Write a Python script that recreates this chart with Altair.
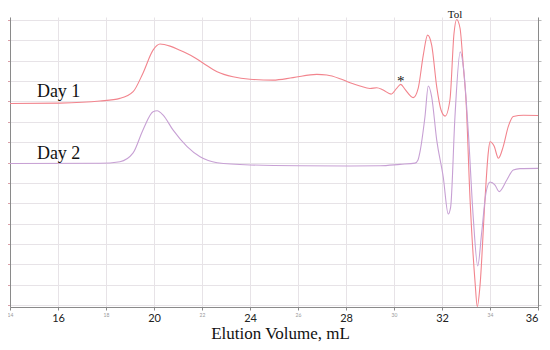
import altair as alt
import pandas as pd

# Day 1 trace (elution volume mL, signal in arbitrary grid units)
day1_x = [14.00, 16.08, 17.75, 18.58, 19.13, 19.54, 19.96, 20.25, 20.67, 21.08,
          21.63, 22.04, 22.63, 23.29, 24.00, 24.96, 25.79, 26.78, 27.20, 27.75,
          28.17, 28.58, 29.00, 29.28, 29.55, 29.88, 30.11, 30.28, 30.46, 30.80,
          31.01, 31.22, 31.40, 31.57, 31.78, 31.96, 32.13, 32.33, 32.50, 32.61,
          32.75, 32.89, 33.00, 33.17, 33.38, 33.47, 33.58, 33.79, 33.93, 34.00,
          34.17, 34.35, 34.55, 34.76, 34.97, 35.39, 36.00]
day1_y = [9.90, 9.92, 10.02, 10.15, 10.48, 11.39, 12.52, 12.82, 12.72, 12.52,
          12.20, 11.89, 11.46, 11.21, 11.09, 11.05, 11.17, 11.33, 11.30, 11.12,
          10.92, 10.76, 10.64, 10.67, 10.56, 10.36, 10.64, 10.84, 10.59, 10.19,
          10.66, 12.28, 13.26, 12.77, 10.72, 9.58, 9.28, 10.07, 13.34, 14.03,
          13.61, 11.70, 10.07, 5.16, 1.08, -0.08, 0.90, 5.16, 7.51, 8.02,
          7.81, 7.21, 7.78, 8.76, 9.26, 9.32, 9.31]

# Day 2 trace
day2_x = [14.00, 17.75, 18.58, 19.13, 19.54, 19.96, 20.13, 20.38, 20.79, 21.38,
          21.92, 22.63, 24.00, 26.08, 28.17, 29.42, 30.25, 30.88, 31.00, 31.08,
          31.29, 31.43, 31.57, 31.78, 32.05, 32.26, 32.36, 32.54, 32.76, 32.89,
          33.10, 33.30, 33.49, 33.65, 33.83, 34.00, 34.21, 34.38, 34.70, 34.97,
          35.25, 36.00]
day2_y = [6.95, 6.96, 7.04, 7.47, 8.60, 9.49, 9.54, 9.33, 8.60, 7.78,
          7.28, 6.99, 6.88, 6.84, 6.83, 6.84, 6.91, 6.97, 7.12, 7.51,
          9.25, 10.76, 10.23, 8.10, 6.30, 4.47, 4.81, 9.25, 12.44, 11.70,
          8.43, 4.34, 1.92, 3.52, 5.49, 6.04, 5.89, 5.57, 6.14, 6.63,
          6.70, 6.71]

series_names = ["Day 1", "Day 2"]
series_colors = ["#f2848d", "#c7a0d4"]

label_text = ["Day 1", "Day 2"]
label_x = [15.12, 15.12]
label_y = [10.24, 7.16]

ann_text = ["*", "Tol"]
ann_x = [30.28, 32.54]
ann_y = [10.76, 14.1]
ann_size = [15, 11]

x_ticks = list(range(14, 37))
y_ticks = list(range(0, 15))

x_domain = [14, 36]
y_domain = [-0.1, 14.15]

df = pd.DataFrame(
    {"vol": day1_x + day2_x,
     "sig": day1_y + day2_y,
     "series": [series_names[0]] * len(day1_x) + [series_names[1]] * len(day2_x)}
)
labels_df = pd.DataFrame({"x": label_x, "y": label_y, "t": label_text})
ann_df = pd.DataFrame({"x": ann_x, "y": ann_y, "t": ann_text, "s": ann_size})

xscale = alt.Scale(domain=x_domain, nice=False, zero=False)
yscale = alt.Scale(domain=y_domain, nice=False, zero=False)

grid_color = "#e7e3e7"
axis_color = "#8a8a8a"
major_test = "datum.value % 4 == 0 && datum.value > 14"

x_axis = alt.Axis(
    values=x_ticks,
    title="Elution Volume, mL",
    titleFont="Liberation Serif",
    titleFontSize=17,
    titleFontWeight="normal",
    titleColor="#111",
    titleBaseline="alphabetic",
    titleY=31,
    titleX=270,
    titleAlign="center",
    labelFont="Lato",
    labelFontSize={"condition": {"test": major_test, "value": 11}, "value": 5},
    labelColor={"condition": {"test": major_test, "value": "#222222"}, "value": "#999999"},
    labelAlign={"condition": {"test": "datum.value == 36", "value": "right"}, "value": "center"},
    labelBaseline="top",
    labelPadding=2,
    labelOverlap=False,
    labelFlush=False,
    tickSize=3,
    tickColor=axis_color,
    domainColor=axis_color,
    gridColor=grid_color,
    format="d",
)

y_axis_left = alt.Axis(
    values=y_ticks, labels=False, title=None, tickSize=3,
    tickColor="#d9a0a8", domainColor=axis_color, gridColor=grid_color,
)
y_axis_right = alt.Axis(
    values=y_ticks, labels=False, title=None, tickSize=3, orient="right",
    tickColor="#bbbbbb", domainColor=axis_color, grid=False,
)

lines = alt.Chart(df).mark_line(strokeWidth=1.1, interpolate="monotone").encode(
    x=alt.X("vol:Q", scale=xscale, axis=x_axis),
    y=alt.Y("sig:Q", scale=yscale, axis=y_axis_left),
    color=alt.Color("series:N", scale=alt.Scale(domain=series_names, range=series_colors), legend=None),
    detail="series:N",
)

right = alt.Chart(df).mark_line(opacity=0).encode(
    x=alt.X("vol:Q", scale=xscale),
    y=alt.Y("sig:Q", scale=yscale, axis=y_axis_right),
)

day_labels = alt.Chart(labels_df).mark_text(
    align="left", baseline="alphabetic", font="Liberation Serif", fontSize=18, color="#111"
).encode(
    x=alt.X("x:Q", scale=xscale),
    y=alt.Y("y:Q", scale=yscale, axis=None),
    text="t:N",
)

anns = alt.Chart(ann_df).mark_text(
    align="center", baseline="alphabetic", font="Liberation Serif", color="#111", fontWeight="normal"
).encode(
    x=alt.X("x:Q", scale=xscale),
    y=alt.Y("y:Q", scale=yscale, axis=None),
    text="t:N",
    size=alt.Size("s:Q", scale=None, legend=None),
)

chart = alt.layer(lines, right, day_labels, anns).resolve_scale(y="independent").properties(
    width=528, height=290,
    autosize=alt.AutoSizeParams(type="none"),
    padding={"left": 2, "top": 9, "right": 4, "bottom": 35},
    background="white",
).configure_view(stroke=None)

chart.save("out.html", embed_options={"renderer": "svg", "actions": False})
